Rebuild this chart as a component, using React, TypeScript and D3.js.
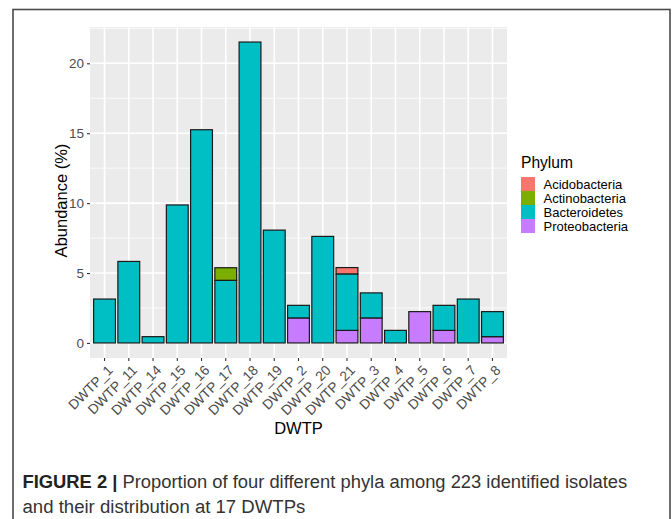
import React, { useEffect, useRef } from "react";
import * as d3 from "d3";

// share of the 223 isolates (%), per plant and phylum
const plants = [
  "DWTP_1", "DWTP_11", "DWTP_14", "DWTP_15", "DWTP_16", "DWTP_17", "DWTP_18",
  "DWTP_19", "DWTP_2", "DWTP_20", "DWTP_21", "DWTP_3", "DWTP_4", "DWTP_5",
  "DWTP_6", "DWTP_7", "DWTP_8",
];
const phyla = ["Acidobacteria", "Actinobacteria", "Bacteroidetes", "Proteobacteria"];
const acidobacteria = [0, 0, 0, 0, 0, 0, 0, 0, 0, 0, 0.45, 0, 0, 0, 0, 0, 0];
const actinobacteria = [0, 0, 0, 0, 0, 0.9, 0, 0, 0, 0, 0, 0, 0, 0, 0, 0, 0];
const bacteroidetes = [3.14, 5.83, 0.45, 9.87, 15.25, 4.48, 21.52, 8.07, 0.9, 7.62, 4.04, 1.79, 0.9, 0, 1.79, 3.14, 1.79];
const proteobacteria = [0, 0, 0, 0, 0, 0, 0, 0, 1.79, 0, 0.9, 1.79, 0, 2.24, 0.9, 0, 0.45];
const phylumColors = ["#F8766D", "#7CAE00", "#00BFC4", "#C77CFF"];

const W = 672;
const H = 519;

const App = () => {
  const ref = useRef<SVGSVGElement>(null);

  useEffect(() => {
    const margin = { top: 27, bottom: 161, left: 90, right: 165 };
    const x0 = margin.left;
    const x1 = W - margin.right;
    const y0 = H - margin.bottom;
    const y1 = margin.top;

    const svg = d3.select(ref.current);
    svg.selectAll("*").remove();

    // outer figure frame
    svg
      .append("rect")
      .attr("x", 13)
      .attr("y", 9.5)
      .attr("width", 657)
      .attr("height", 530)
      .attr("fill", "white")
      .attr("stroke", "#4a4a4a")
      .attr("stroke-width", 1.6);

    const rows = plants.map((p, i) => ({
      plant: p,
      Acidobacteria: acidobacteria[i],
      Actinobacteria: actinobacteria[i],
      Bacteroidetes: bacteroidetes[i],
      Proteobacteria: proteobacteria[i],
    }));

    // ggplot stacks the first level on top
    const stacked = d3.stack<any>().keys(phyla.slice().reverse())(rows);
    const maxTotal = d3.max(stacked[stacked.length - 1], (d) => d[1]) as number;
    const pad = maxTotal * 0.05;

    const x = d3
      .scaleBand()
      .domain(plants)
      .range([x0, x1])
      .paddingInner(0.1)
      .paddingOuter(0.15);

    const y = d3.scaleLinear().domain([-pad, maxTotal + pad]).range([y0, y1]);
    const color = d3.scaleOrdinal<string>().domain(phyla).range(phylumColors);

    // panel
    svg
      .append("rect")
      .attr("x", x0)
      .attr("y", y1)
      .attr("width", x1 - x0)
      .attr("height", y0 - y1)
      .attr("fill", "#EBEBEB");

    const majors = y.ticks(5).filter((t) => t >= 0);
    const minors = majors.map((t) => t + 2.5).filter((t) => y(t) > y1);

    svg
      .append("g")
      .selectAll("line")
      .data(minors)
      .join("line")
      .attr("x1", x0)
      .attr("x2", x1)
      .attr("y1", (d) => y(d))
      .attr("y2", (d) => y(d))
      .attr("stroke", "white")
      .attr("stroke-width", 0.8);

    svg
      .append("g")
      .selectAll("line")
      .data(majors)
      .join("line")
      .attr("x1", x0)
      .attr("x2", x1)
      .attr("y1", (d) => y(d))
      .attr("y2", (d) => y(d))
      .attr("stroke", "white")
      .attr("stroke-width", 1.6);

    svg
      .append("g")
      .selectAll("line")
      .data(plants)
      .join("line")
      .attr("x1", (d) => x(d)! + x.bandwidth() / 2)
      .attr("x2", (d) => x(d)! + x.bandwidth() / 2)
      .attr("y1", y1)
      .attr("y2", y0)
      .attr("stroke", "white")
      .attr("stroke-width", 1.6);

    // bars
    svg
      .append("g")
      .selectAll("g")
      .data(stacked)
      .join("g")
      .attr("fill", (s) => color(s.key))
      .selectAll("rect")
      .data((s) => s.filter((d) => d[1] - d[0] > 0))
      .join("rect")
      .attr("x", (d) => x(d.data.plant)!)
      .attr("width", x.bandwidth())
      .attr("y", (d) => y(d[1]))
      .attr("height", (d) => y(d[0]) - y(d[1]))
      .attr("stroke", "#1a1a1a")
      .attr("stroke-width", 1.2);

    // y axis
    const yAxis = svg
      .append("g")
      .attr("transform", `translate(${x0},0)`)
      .call(d3.axisLeft(y).tickValues(majors).tickSize(3).tickPadding(3));
    yAxis.select(".domain").remove();
    yAxis.selectAll(".tick line").attr("stroke", "#333333").attr("stroke-width", 1.1);
    yAxis
      .selectAll(".tick text")
      .attr("fill", "#4D4D4D")
      .attr("font-size", 13.5)
      .attr("font-family", "Liberation Sans, Arial, sans-serif");

    // x axis
    const xAxis = svg
      .append("g")
      .attr("transform", `translate(0,${y0})`)
      .call(d3.axisBottom(x).tickSize(3).tickPadding(3));
    xAxis.select(".domain").remove();
    xAxis.selectAll(".tick line").attr("stroke", "#333333").attr("stroke-width", 1.1);
    xAxis
      .selectAll(".tick text")
      .attr("fill", "#4D4D4D")
      .attr("font-size", 13.8)
      .attr("font-family", "Liberation Sans, Arial, sans-serif")
      .attr("text-anchor", "end")
      .attr("y", 0)
      .attr("dy", "0.72em")
      .attr("transform", "translate(2,6) rotate(-45)");

    // axis titles
    svg
      .append("text")
      .attr("x", (x0 + x1) / 2)
      .attr("y", 434)
      .attr("text-anchor", "middle")
      .attr("font-size", 16.5)
      .attr("font-family", "Liberation Sans, Arial, sans-serif")
      .text("DWTP");

    svg
      .append("text")
      .attr("transform", `translate(67,${(y0 + y1) / 2 + 8}) rotate(-90)`)
      .attr("text-anchor", "middle")
      .attr("font-size", 16.5)
      .attr("font-family", "Liberation Sans, Arial, sans-serif")
      .text("Abundance (%)");

    // legend
    const legend = svg.append("g").attr("transform", "translate(521,0)");
    legend
      .append("text")
      .attr("y", 168)
      .attr("font-size", 15.6)
      .attr("font-family", "Liberation Sans, Arial, sans-serif")
      .text("Phylum");
    const items = legend
      .selectAll("g")
      .data(phyla)
      .join("g")
      .attr("transform", (_, i) => `translate(0,${177 + i * 14})`);
    items
      .append("rect")
      .attr("width", 14)
      .attr("height", 14)
      .attr("fill", (d) => color(d));
    items
      .append("text")
      .attr("x", 22.5)
      .attr("y", 7)
      .attr("dy", "0.35em")
      .attr("font-size", 13)
      .attr("font-family", "Liberation Sans, Arial, sans-serif")
      .text((d) => d);

    // caption, squeezed horizontally to the condensed width of the original
    const capFont = "Liberation Sans Narrow, Liberation Sans, Arial, sans-serif";
    const captionLine = (yPos: number, target: number) => {
      const t = svg
        .append("text")
        .attr("font-size", 18)
        .attr("font-family", capFont)
        .attr("fill", "#333");
      return { t, yPos, target };
    };
    const l1 = captionLine(488, 605);
    l1.t.append("tspan").attr("font-weight", "bold").attr("fill", "#222").text("FIGURE 2 |");
    l1.t.append("tspan").text(" Proportion of four different phyla among 223 identified isolates");
    const l2 = captionLine(513, 283);
    l2.t.text("and their distribution at 17 DWTPs");
    [l1, l2].forEach(({ t, yPos, target }) => {
      const len = (t.node() as SVGTextElement).getComputedTextLength() || target;
      t.attr("transform", `translate(22.5,${yPos}) scale(${target / len},1)`);
    });
  }, []);

  return (
    <svg
      ref={ref}
      width={W}
      height={H}
      style={{ position: "absolute", left: 0, top: 0, background: "white" }}
    />
  );
};

export default App;
